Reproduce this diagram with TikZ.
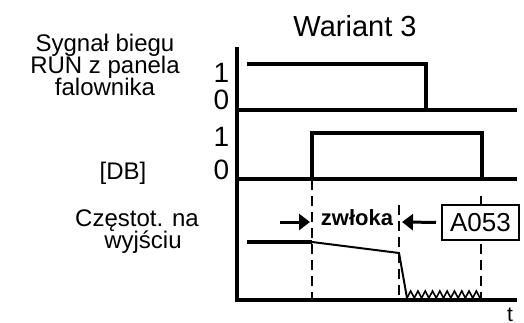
\documentclass[tikz,border=0pt]{standalone}
\usepackage{fontspec}
\setmainfont{Liberation Sans}
\usetikzlibrary{arrows.meta}
\begin{document}
\begin{tikzpicture}[x=1pt,y=-1pt,
  lbl/.style={font=\fontsize{24}{22}\selectfont, inner sep=0pt, anchor=base},
  digit/.style={font=\fontsize{28}{28}\selectfont, inner sep=0pt, anchor=base west},
  heavy/.style={line width=3.3pt},
  thinline/.style={line width=2pt},
  dashline/.style={line width=2pt, dash pattern=on 10pt off 6pt},
  arr/.style={line width=3pt, -{Triangle[length=11pt,width=16pt]}},
  codebox/.style={draw, line width=2pt, fill=white, minimum width=77pt, minimum height=35pt, inner sep=0pt, font=\fontsize{26}{26}\selectfont}
]
\useasboundingbox (0,0) rectangle (524,323);
% title
\node[font=\fontsize{29}{29}\selectfont, inner sep=0pt, anchor=base] (title) at (355,37) {Wariant 3};
% left labels
\node[lbl] (l1a) at (105,52) {Sygnał biegu};
\node[lbl] (l1b) at (105,74) {RUN z panela};
\node[lbl] (l1c) at (105,96) {falownika};
\node[lbl] (l2) at (123,179) {[DB]};
\node[lbl] (l3a) at (137,226) {Częstot. na};
\node[lbl] (l3b) at (143,248) {wyjściu};
% digits
\node[digit] (d1) at (213.5,83) {1};
\node[digit] (d0) at (213.5,110) {0};
\node[digit] (e1) at (213.5,147) {1};
\node[digit] (e0) at (213.5,179) {0};
% axes
\coordinate (axtop) at (237,47);
\coordinate (axbot) at (237,300);
\draw[heavy] (axtop) -- (axbot);
\draw[heavy] (237,110) -- (517,110);
\draw[heavy] (237,179) -- (517,179);
\draw[line width=3.8pt] (235,300) -- (517,300);
% RUN pulse
\draw[heavy] (247,64) -- (426,64) -- (426,110);
% DB pulse
\draw[heavy] (312,179) -- (312,133) -- (482,133) -- (482,179);
% dashed lines
\draw[dashline] (312,180) -- (312,300);
\draw[dashline] (399,205) -- (399,300);
\draw[dashline] (481,196) -- (481,300);
% frequency
\draw[heavy] (247,242) -- (312,242);
\draw[thinline] (312,242) -- (399,253) -- (407,298);
\draw[line width=1.6pt, line join=miter]
  (407,298) \foreach \i in {0,...,9} { -- ({407+\i*7.3+3.65},291) -- ({407+(\i+1)*7.3},298) };
% labels in freq area
\node[font=\bfseries\fontsize{22}{22}\selectfont, inner sep=0pt, anchor=base] (zw) at (357,225) {zwłoka};
\node[codebox] (code) at (480.5,222.5) {A053};
\coordinate (la) at (280,222);
\coordinate (lb) at (310,222);
\coordinate (rb) at (402,222);
\draw[arr] (la) -- (lb);
\draw[arr, shorten <=5pt] (code.west) -- (rb);
\node[font=\fontsize{21}{21}\selectfont, inner sep=0pt, anchor=base] (t) at (510,321) {t};
\end{tikzpicture}
\end{document}
